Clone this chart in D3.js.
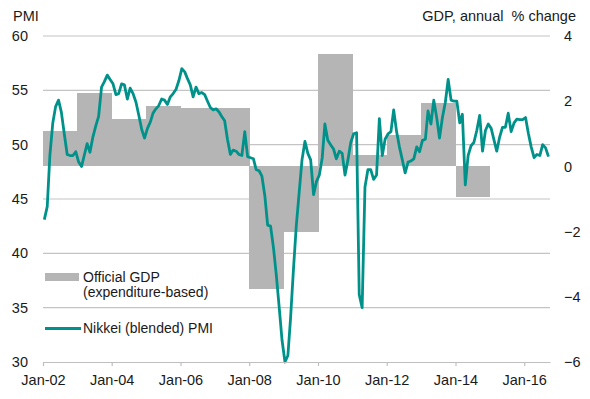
<!DOCTYPE html>
<html>
<head>
<meta charset="utf-8">
<script src="https://cdn.jsdelivr.net/npm/d3@7"></script>
<style>
  body { margin: 0; background: #fff; }
  text { font-family: "Liberation Sans", Arial, sans-serif; fill: #1a1a1a; }
</style>
</head>
<body>
<div id="app"></div>
<script>
// monthly blended PMI, Jan-02 .. Sep-16
const pmiStart = [2002, 0]
const pmiValues = [
  43.1, 44.3, 49.0, 52.0, 53.5, 54.1, 53.0, 51.0, 49.1, 49.0, 49.0, 49.35,
  48.4, 48.0, 49.0, 50.1, 49.3, 50.7, 51.7, 52.6, 55.3, 55.8, 56.4, 56.0,
  55.6, 54.6, 54.7, 55.6, 55.5, 54.2, 55.2, 54.7, 53.9, 52.7, 51.4, 50.6,
  51.5, 52.1, 52.9, 53.3, 53.6, 54.2, 54.1, 53.7, 54.4, 54.7, 55.1, 55.9,
  57.0, 56.7, 56.1, 55.5, 54.4, 55.3, 54.7, 54.8, 54.6, 54.0, 53.4, 53.2,
  53.3, 53.0, 52.6, 52.2, 50.5, 49.1, 49.5, 49.4, 49.1, 49.0, 51.2, 48.9,
  48.8, 48.7, 47.7, 47.6, 47.1, 45.3, 42.6, 42.5, 40.5, 38.0, 35.0, 32.0,
  30.0, 30.6, 34.0, 38.5, 42.5, 45.6, 48.6, 50.3, 49.2, 48.6, 45.4, 46.6,
  47.2, 48.8, 51.9, 50.4, 50.0, 49.6, 48.7, 49.4, 49.2, 47.2, 48.6, 50.2,
  51.0, 51.1, 36.2, 35.0, 46.1, 47.7, 47.7, 46.8, 47.2, 52.4, 49.0, 50.5,
  51.0, 51.2, 53.2, 51.2, 49.8, 48.6, 47.4, 48.4, 48.5, 48.7, 49.8, 49.35,
  50.4, 50.5, 53.1, 51.9, 54.1, 52.5, 50.6, 52.5, 53.9, 56.0, 54.1, 54.0,
  54.0, 52.0, 52.8, 46.3, 49.0, 49.9, 50.2, 51.3, 52.7, 49.4, 51.3, 51.9,
  51.5, 50.4, 49.4, 50.7, 51.6, 51.6, 52.9, 51.2, 52.0, 52.35, 52.3, 52.3,
  52.5, 51.0, 49.8, 48.8, 49.1, 49.0, 50.0, 49.7, 48.9
]

// official GDP (expenditure-based), annual % change
const gdpYears = [2002, 2003, 2004, 2005, 2006, 2007, 2008, 2009, 2010, 2011, 2012, 2013, 2014]
const gdpValues = [1.1, 2.25, 1.45, 1.85, 1.8, 1.8, -3.75, -2.0, 3.45, 0.35, 0.95, 1.95, -0.95]

const pmiTicks = [30, 35, 40, 45, 50, 55, 60]
const gdpTicks = [-6, -4, -2, 0, 2, 4]
const tickYears = [2002, 2004, 2006, 2008, 2010, 2012, 2014, 2016]

;(function(d3) {
  const w = 590, h = 399
  const padLeft = 43, padRight = 550, padTop = 36, padBottom = 362
  const fontSize = '14.5px'
  const teal = '#00928a'
  const grey = '#b5b5b5'

  const svg = d3.select('#app').append('svg')
    .attr('width', w)
    .attr('height', h)

  const x = d3.scaleTime()
    .domain([new Date(2002, 0, 1), new Date(2016, 9, 1)])
    .range([padLeft, padRight])
  const yL = d3.scaleLinear().domain([30, 60]).range([padBottom, padTop])
  const yR = d3.scaleLinear().domain([-6, 4]).range([padBottom, padTop])

  // gridlines
  svg.append('g').selectAll('line')
    .data(pmiTicks.filter(d => d > 30))
    .enter().append('line')
    .attr('x1', padLeft).attr('x2', padRight)
    .attr('y1', d => yL(d)).attr('y2', d => yL(d))
    .attr('stroke', '#c4c4c4')
    .attr('stroke-width', 1.2)

  // GDP bars (one block per calendar year)
  svg.append('g').selectAll('rect')
    .data(gdpYears.map((yr, i) => ({ yr: yr, v: gdpValues[i] })))
    .enter().append('rect')
    .attr('x', d => x(new Date(d.yr, 0, 1)))
    .attr('width', d => x(new Date(d.yr + 1, 0, 1)) - x(new Date(d.yr, 0, 1)) + 0.6)
    .attr('y', d => yR(Math.max(0, d.v)))
    .attr('height', d => Math.abs(yR(d.v) - yR(0)))
    .attr('fill', grey)
    .attr('shape-rendering', 'crispEdges')

  // PMI line, points at mid-month
  const pmi = pmiValues.map((v, i) => ({ date: new Date(pmiStart[0], pmiStart[1] + i, 15), v: v }))
  const line = d3.line().x(d => x(d.date)).y(d => yL(d.v))
  svg.append('path')
    .datum(pmi)
    .attr('d', line)
    .attr('fill', 'none')
    .attr('stroke', teal)
    .attr('stroke-width', 2.8)
    .attr('stroke-linejoin', 'round')

  // x axis
  const xAxis = svg.append('g')
    .attr('transform', 'translate(0,' + padBottom + ')')
    .call(d3.axisBottom(x)
      .tickValues(tickYears.map(yr => new Date(yr, 0, 1)))
      .tickFormat(d3.timeFormat('%b-%y'))
      .tickSize(4)
      .tickSizeOuter(0)
      .tickPadding(9))
  xAxis.select('.domain').attr('stroke', '#bfbfbf').attr('stroke-width', 1.2)
  xAxis.selectAll('.tick line').attr('stroke', '#bfbfbf').attr('stroke-width', 1.2)
  xAxis.selectAll('text').style('font-size', fontSize).attr('fill', '#1a1a1a')

  // left axis
  const yAxisL = svg.append('g')
    .attr('transform', 'translate(' + padLeft + ',0)')
    .call(d3.axisLeft(yL).tickValues(pmiTicks).tickSize(0).tickPadding(15))
  yAxisL.select('.domain').remove()
  yAxisL.selectAll('text').style('font-size', fontSize).attr('fill', '#1a1a1a')

  // right axis
  const yAxisR = svg.append('g')
    .attr('transform', 'translate(' + padRight + ',0)')
    .call(d3.axisRight(yR).tickValues(gdpTicks).tickSize(0).tickPadding(14))
  yAxisR.select('.domain').remove()
  yAxisR.selectAll('text').style('font-size', fontSize).attr('fill', '#1a1a1a')

  // axis titles
  svg.append('text')
    .attr('x', 13).attr('y', 21)
    .style('font-size', fontSize)
    .text('PMI')
  svg.append('text')
    .attr('x', 576).attr('y', 21)
    .attr('text-anchor', 'end')
    .style('font-size', fontSize)
    .text('GDP, annual\u00a0 % change')

  // legend
  const legend = svg.append('g')
  legend.append('rect')
    .attr('x', 45).attr('y', 273)
    .attr('width', 34).attr('height', 8)
    .attr('fill', grey)
  legend.append('text')
    .attr('x', 83).attr('y', 282)
    .style('font-size', '14px')
    .text('Official GDP')
  legend.append('text')
    .attr('x', 83).attr('y', 297)
    .style('font-size', '14px')
    .text('(expenditure-based)')
  legend.append('line')
    .attr('x1', 45).attr('x2', 81)
    .attr('y1', 328.5).attr('y2', 328.5)
    .attr('stroke', teal)
    .attr('stroke-width', 2.8)
  legend.append('text')
    .attr('x', 83).attr('y', 333)
    .style('font-size', '14px')
    .text('Nikkei (blended) PMI')
}(d3))
</script>
</body>
</html>
